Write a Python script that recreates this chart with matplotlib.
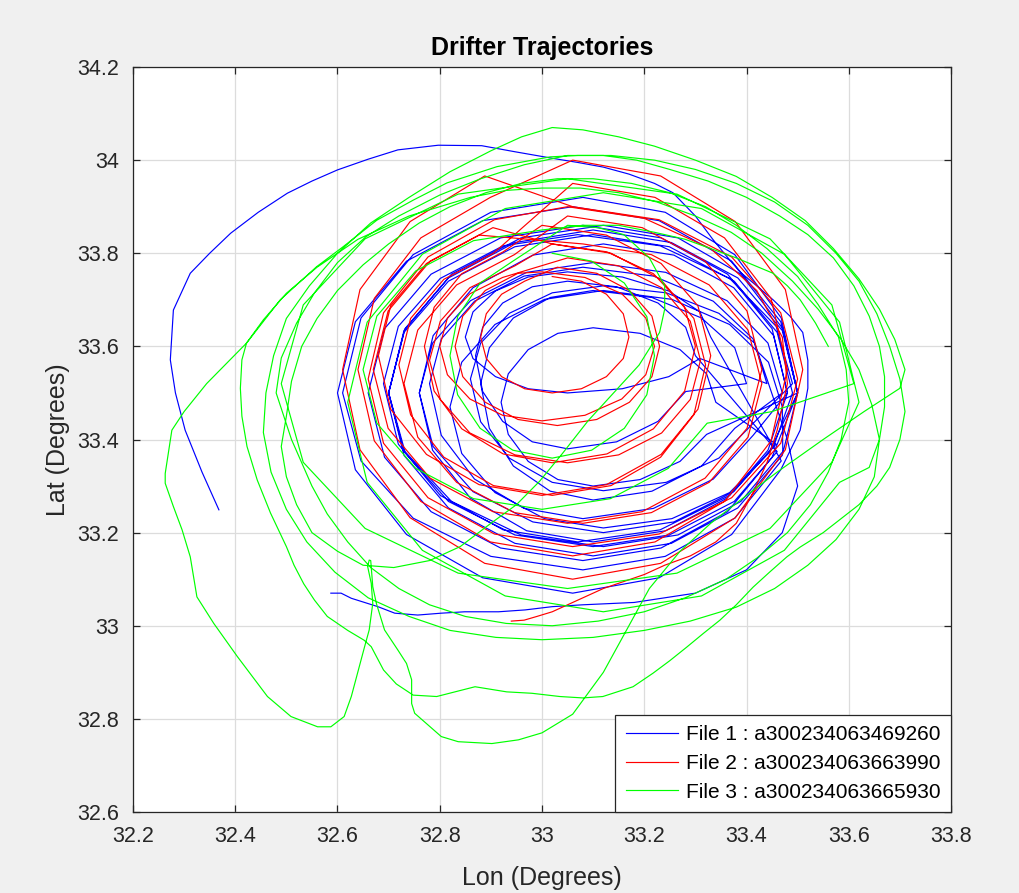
import matplotlib
matplotlib.use("Agg")
import matplotlib.pyplot as plt

# ---------------- data (lon, lat) ----------------
title = "Drifter Trajectories"
xlabel = "Lon (Degrees)"
ylabel = "Lat (Degrees)"
legend_labels = ["File 1 : a300234063469260",
                 "File 2 : a300234063663990",
                 "File 3 : a300234063665930"]
xticks = [32.2, 32.4, 32.6, 32.8, 33.0, 33.2, 33.4, 33.6, 33.8]
xtick_labels = ["32.2", "32.4", "32.6", "32.8", "33", "33.2", "33.4", "33.6", "33.8"]
yticks = [32.6, 32.8, 33.0, 33.2, 33.4, 33.6, 33.8, 34.0, 34.2]
ytick_labels = ["32.6", "32.8", "33", "33.2", "33.4", "33.6", "33.8", "34", "34.2"]

# ---------- File 1 (blue) ----------
blue_start = [(32.368,33.249),(32.335,33.33),(32.302,33.42),(32.283,33.50),(32.273,33.571),
              (32.279,33.678),(32.312,33.757),(32.35,33.80),(32.391,33.843),(32.445,33.888),
              (32.502,33.929),(32.55,33.955),(32.600,33.979),(32.66,34.002),(32.718,34.022),
              (32.797,34.032),(32.882,34.031),(32.947,34.018),(33.020,34.004),(33.07,33.995),
              (33.12,33.985),(33.17,33.97),(33.22,33.95),(33.256,33.93),(33.30,33.88),
              (33.334,33.83),(33.36,33.795),(33.387,33.76),(33.42,33.73),(33.452,33.70),
              (33.485,33.665),(33.51,33.63),(33.52,33.57),(33.52,33.51),(33.505,33.42)]
blue_loops_a = [
    (33.467,33.335),(33.371,33.196),(33.229,33.103),(33.06,33.07),(32.884,33.103),(32.735,33.196),
    (32.635,33.335),(32.60,33.50),(32.635,33.653),(32.735,33.783),(32.884,33.87),(33.06,33.90),
    (33.229,33.87),(33.371,33.783),(33.467,33.653),(33.50,33.50),
    (33.45,33.362),(33.363,33.245),(33.233,33.167),(33.08,33.14),(32.919,33.167),(32.783,33.245),
    (32.692,33.362),(32.66,33.50),(32.692,33.638),(32.783,33.755),(32.919,33.833),(33.08,33.86),
    (33.233,33.833),(33.363,33.755),(33.45,33.638),(33.48,33.50),
    (33.442,33.377),(33.362,33.274),(33.242,33.204),(33.10,33.18),(32.97,33.204),(32.86,33.274),
    (32.786,33.377),(32.76,33.50),(32.786,33.607),(32.86,33.698),(32.97,33.759),(33.10,33.78),
    (33.242,33.759),(33.362,33.698),(33.442,33.607),(33.47,33.50),
    (33.377,33.424),(33.312,33.343),(33.215,33.289),(33.10,33.27),(33.016,33.289),(32.944,33.343),
    (32.897,33.424),(32.88,33.52),(32.897,33.597),(32.944,33.661),(33.016,33.705),(33.10,33.72),
    (33.215,33.705),(33.312,33.661),(33.377,33.597),(33.40,33.52),
    (33.281,33.503),(33.227,33.439),(33.146,33.395),(33.05,33.38),(32.981,33.395),(32.923,33.439),
    (32.884,33.503),(32.87,33.58),(32.884,33.641),(32.923,33.693),(32.981,33.728),(33.05,33.74),
    (33.146,33.728),(33.227,33.693),(33.281,33.641),(33.30,33.58)]
blue_loops_b = [
    (33.46,33.374),(33.376,33.267),(33.249,33.195),(33.10,33.17),(32.947,33.195),(32.817,33.267),
    (32.73,33.374),(32.70,33.50),(32.73,33.63),(32.817,33.74),(32.947,33.814),(33.10,33.84),
    (33.249,33.814),(33.376,33.74),(33.46,33.63),(33.49,33.50),
    (33.453,33.385),(33.375,33.288),(33.258,33.223),(33.12,33.20),(32.982,33.223),(32.865,33.288),
    (32.787,33.385),(32.76,33.50),(32.787,33.623),(32.865,33.726),(32.982,33.796),(33.12,33.82),
    (33.258,33.796),(33.375,33.726),(33.453,33.623),(33.48,33.50),
    (33.413,33.409),(33.335,33.315),(33.218,33.252),(33.08,33.23),(32.965,33.252),(32.868,33.315),
    (32.803,33.409),(32.78,33.52),(32.803,33.616),(32.868,33.697),(32.965,33.751),(33.08,33.77),
    (33.218,33.751),(33.335,33.697),(33.413,33.616),(33.44,33.52),
    (33.309,33.574),(33.248,33.535),(33.157,33.509),(33.05,33.50),(32.973,33.509),(32.909,33.535),
    (32.865,33.574),(32.85,33.62),(32.865,33.674),(32.909,33.719),(32.973,33.749),(33.05,33.76),
    (33.157,33.749),(33.248,33.719),(33.309,33.674),(33.33,33.62)]
blue_loops_c = [
    (33.468,33.354),(33.377,33.231),(33.241,33.149),(33.08,33.12),(32.90,33.149),(32.748,33.231),
    (32.646,33.354),(32.61,33.50),(32.646,33.661),(32.748,33.797),(32.90,33.888),(33.08,33.92),
    (33.241,33.888),(33.377,33.797),(33.468,33.661),(33.50,33.50),
    (33.47,33.366),(33.383,33.253),(33.253,33.177),(33.10,33.15),(32.947,33.177),(32.817,33.253),
    (32.73,33.366),(32.70,33.50),(32.73,33.634),(32.817,33.747),(32.947,33.823),(33.10,33.85),
    (33.253,33.823),(33.383,33.747),(33.47,33.634),(33.50,33.50),
    (33.443,33.37),(33.367,33.286),(33.254,33.23),(33.12,33.21),(33.005,33.23),(32.908,33.286),
    (32.843,33.37),(32.82,33.47),(32.843,33.566),(32.908,33.647),(33.005,33.701),(33.12,33.72),
    (33.254,33.701),(33.367,33.647),(33.443,33.566),(33.47,33.47)]
blue_loops_d = [
    (33.471,33.374),(33.389,33.267),(33.266,33.195),(33.12,33.17),(32.959,33.195),(32.823,33.267),
    (32.732,33.374),(32.70,33.50),(32.732,33.638),(32.823,33.755),(32.959,33.833),(33.12,33.86),
    (33.266,33.833),(33.389,33.755),(33.471,33.638),(33.50,33.50),
    (33.322,33.411),(33.27,33.353),(33.192,33.314),(33.10,33.30),(33.031,33.314),(32.973,33.353),
    (32.934,33.411),(32.92,33.48),(32.934,33.541),(32.973,33.593),(33.031,33.628),(33.10,33.64),
    (33.192,33.628),(33.27,33.593),(33.322,33.541),(33.34,33.48),
    (33.458,33.39),(33.367,33.28),(33.231,33.206),(33.07,33.18),(32.924,33.206),(32.801,33.28),
    (32.719,33.39),(32.69,33.52),(32.719,33.643),(32.801,33.746),(32.924,33.816),(33.07,33.84),
    (33.231,33.816),(33.367,33.746),(33.458,33.643),(33.49,33.52),
    (33.416,33.438),(33.346,33.36),(33.243,33.308),(33.12,33.29),(33.02,33.308),(32.936,33.36),
    (32.88,33.438),(32.86,33.53),(32.88,33.607),(32.936,33.671),(33.02,33.715),(33.12,33.73),
    (33.243,33.715),(33.346,33.671),(33.416,33.607),(33.44,33.53)]
blue_end = [(33.48,33.40),(33.50,33.30),(33.47,33.20),(33.40,33.12),(33.30,33.07),(33.18,33.05),
            (33.08,33.045),(33.02,33.041),(32.967,33.034),(32.915,33.030),(32.849,33.030),
            (32.803,33.027),(32.757,33.023),(32.712,33.027),(32.679,33.041),(32.627,33.059),
            (32.607,33.07),(32.587,33.07)]

# ---------- File 2 (red) ----------
red_inner = [
    (33.02,33.75),(33.077,33.74),(33.126,33.712),(33.159,33.67),(33.17,33.62),(33.159,33.574),
    (33.126,33.535),(33.077,33.509),(33.02,33.50),(32.966,33.509),(32.921,33.535),(32.891,33.574),
    (32.88,33.62),(32.891,33.67),(32.921,33.712),(32.966,33.74),
    (33.03,33.77),(33.107,33.757),(33.171,33.72),(33.215,33.665),(33.23,33.60),(33.215,33.535),
    (33.171,33.48),(33.107,33.443),(33.03,33.43),(32.953,33.443),(32.889,33.48),(32.845,33.535),
    (32.83,33.60),(32.845,33.665),(32.889,33.72),(32.953,33.757),
    (33.00,33.76),(33.084,33.748),(33.156,33.713),(33.203,33.661),(33.22,33.60),(33.203,33.539),
    (33.156,33.487),(33.084,33.452),(33.00,33.44),(32.923,33.452),(32.859,33.487),(32.815,33.539),
    (32.80,33.60),(32.815,33.661),(32.859,33.713),(32.923,33.748),
    (33.05,33.79),(33.15,33.773),(33.234,33.726),(33.29,33.654),(33.31,33.57),(33.29,33.486),
    (33.234,33.414),(33.15,33.367),(33.05,33.35),(32.947,33.367),(32.859,33.414),(32.801,33.486),
    (32.78,33.57),(32.801,33.654),(32.859,33.726),(32.947,33.773)]
red_middle = [
    (33.02,33.82),(33.127,33.803),(33.218,33.756),(33.279,33.684),(33.30,33.60),(33.279,33.504),
    (33.218,33.423),(33.127,33.369),(33.02,33.35),(32.924,33.369),(32.843,33.423),(32.789,33.504),
    (32.77,33.60),(32.789,33.684),(32.843,33.756),(32.924,33.803),
    (33.00,33.86),(33.126,33.839),(33.233,33.778),(33.305,33.687),(33.33,33.58),(33.305,33.465),
    (33.233,33.368),(33.126,33.303),(33.00,33.28),(32.877,33.303),(32.774,33.368),(32.704,33.465),
    (32.68,33.58),(32.704,33.687),(32.774,33.778),(32.877,33.839),
    (33.08,33.82),(33.214,33.797),(33.327,33.732),(33.403,33.635),(33.43,33.52),(33.403,33.405),
    (33.327,33.308),(33.214,33.243),(33.08,33.22),(32.946,33.243),(32.833,33.308),(32.757,33.405),
    (32.73,33.52),(32.757,33.635),(32.833,33.732),(32.946,33.797),
    (33.05,33.88),(33.196,33.855),(33.319,33.783),(33.401,33.676),(33.43,33.55),(33.401,33.424),
    (33.319,33.317),(33.196,33.245),(33.05,33.22),(32.904,33.245),(32.781,33.317),(32.699,33.424),
    (32.67,33.55),(32.699,33.676),(32.781,33.783),(32.904,33.855)]
red_outer = [
    (33.02,33.82),(33.135,33.80),(33.232,33.744),(33.297,33.66),(33.32,33.56),(33.297,33.453),
    (33.232,33.362),(33.135,33.301),(33.02,33.28),(32.905,33.301),(32.808,33.362),(32.743,33.453),
    (32.72,33.56),(32.743,33.66),(32.808,33.744),(32.905,33.80),
    (33.06,33.95),(33.221,33.92),(33.357,33.833),(33.448,33.703),(33.48,33.55),(33.448,33.397),
    (33.357,33.267),(33.221,33.18),(33.06,33.15),(32.899,33.18),(32.763,33.267),(32.672,33.397),
    (32.64,33.55),(32.672,33.703),(32.763,33.833),(32.899,33.92),
    (33.06,34.00),(33.232,33.966),(33.378,33.868),(33.476,33.722),(33.51,33.55),(33.476,33.378),
    (33.378,33.232),(33.232,33.134),(33.06,33.10),(32.888,33.134),(32.742,33.232),(32.644,33.378),
    (32.61,33.55),(32.644,33.722),(32.742,33.868),(32.888,33.966),
    (33.06,33.90),(33.229,33.872),(33.371,33.792),(33.467,33.672),(33.50,33.53),(33.467,33.392),
    (33.371,33.275),(33.229,33.197),(33.06,33.17),(32.907,33.197),(32.777,33.275),(32.69,33.392),
    (32.66,33.53),(32.69,33.672),(32.777,33.792),(32.907,33.872)]
red_end = [(33.05,33.90),(33.20,33.875),(33.33,33.81),(33.42,33.72),(33.47,33.62),(33.48,33.52),
           (33.46,33.42),(33.44,33.35),(33.41,33.28),(33.38,33.22),(33.34,33.18),(33.29,33.15),
           (33.24,33.13),(33.20,33.11),(33.16,33.095),(33.12,33.08),(33.08,33.06),(33.05,33.045),
           (33.02,33.03),(32.99,33.02),(32.965,33.012),(32.94,33.01)]

# ---------- File 3 (green) ----------
green_inner = [
    (33.02,33.80),(33.097,33.783),(33.161,33.736),(33.205,33.664),(33.22,33.58),(33.205,33.496),
    (33.161,33.424),(33.097,33.377),(33.02,33.36),(32.943,33.377),(32.879,33.424),(32.835,33.496),
    (32.82,33.58),(32.835,33.664),(32.879,33.736),(32.943,33.783),
    (33.05,33.86),(33.11,33.855),(33.16,33.84),(33.21,33.79),(33.24,33.73),(33.24,33.68),
    (33.23,33.63),(33.19,33.56),(33.14,33.50),(33.09,33.44),(33.04,33.37),(32.995,33.31),
    (32.95,33.26),(32.90,33.22),(32.84,33.17),(32.78,33.14),(32.71,33.125),(32.65,33.13),
    (32.60,33.16),(32.55,33.20),(32.52,33.26),(32.50,33.32),(32.49,33.385),(32.50,33.45),
    (32.51,33.525),(32.53,33.60),(32.56,33.66),(32.60,33.72),(32.65,33.775),(32.70,33.82),
    (32.76,33.865),(32.82,33.90),(32.89,33.93),(32.96,33.95),(33.03,33.96),(33.10,33.96),
    (33.175,33.95),(33.25,33.93),(33.32,33.90),(33.38,33.86),(33.44,33.81),(33.50,33.75),
    (33.54,33.69),(33.58,33.62),(33.595,33.55),(33.60,33.48),(33.585,33.40),(33.56,33.33),
    (33.525,33.26),(33.48,33.20),(33.42,33.145),(33.36,33.10),(33.28,33.06),(33.20,33.03),
    (33.11,33.01),(33.02,33.00),(32.93,33.005),(32.85,33.02),(32.78,33.045),(32.72,33.08),
    (32.665,33.125),(32.62,33.18),(32.58,33.24),(32.55,33.30),(32.51,33.40)]
green_big = [(32.48,33.50),(32.49,33.575),(32.52,33.65),(32.555,33.715),(32.60,33.78),(32.655,33.835),
             (32.72,33.88),(32.80,33.925),(32.88,33.96),(32.965,33.99),(33.05,34.01),(33.135,34.01),
             (33.22,34.00),(33.30,33.98),(33.38,33.95),(33.455,33.91),(33.52,33.86),(33.575,33.80),
             (33.62,33.74),(33.655,33.67),(33.68,33.60),(33.70,33.53),(33.71,33.46),(33.70,33.40),
             (33.68,33.34),(33.655,33.30),(33.62,33.26),(33.585,33.23),(33.55,33.20)]
green_south1 = [
    (33.505,33.169),(33.479,33.148),(33.445,33.115),(33.413,33.083),(33.38,33.045),(33.348,33.012),
    (33.315,32.983),(33.283,32.954),(33.25,32.925),(33.217,32.898),(33.178,32.869),(33.119,32.848),
    (33.08,32.845),(33.035,32.848),(32.98,32.855),(32.931,32.858),(32.869,32.869),(32.83,32.858),
    (32.794,32.848),(32.748,32.851),(32.715,32.875),(32.69,32.905),(32.666,32.955),(32.652,32.969),
    (32.62,32.99),(32.58,33.02),(32.555,33.055),(32.534,33.09),(32.515,33.13),(32.50,33.17),
    (32.485,33.205),(32.469,33.242),(32.443,33.313),(32.423,33.385),(32.413,33.45),(32.41,33.51),
    (32.413,33.571),(32.422,33.607),(32.455,33.657),(32.50,33.714),(32.56,33.77),(32.60,33.80),
    (32.64,33.83),(32.69,33.855),(32.74,33.88),(32.80,33.90),(32.86,33.92),(32.93,33.935),
    (33.00,33.94),(33.075,33.94),(33.15,33.93),(33.225,33.91),(33.30,33.88),(33.37,33.845),
    (33.43,33.80),(33.49,33.74),(33.54,33.68),(33.585,33.615),(33.62,33.55),(33.645,33.475)]
green_big2 = [(33.66,33.40),(33.65,33.32),(33.62,33.25),(33.575,33.185),(33.52,33.13),(33.455,33.08),
              (33.38,33.04),(33.29,33.01),(33.20,32.99),(33.10,32.975),(33.00,32.97),(32.91,32.975),
              (32.82,32.99),(32.74,33.02),(32.66,33.06),(32.595,33.115),(32.54,33.18),(32.50,33.25),
              (32.47,33.33),(32.455,33.415),(32.46,33.50),(32.475,33.58),(32.50,33.66),(32.545,33.73),
              (32.60,33.80),(32.665,33.865),(32.74,33.92),(32.82,33.975),(32.90,34.02),(32.96,34.05),
              (33.02,34.07),(33.08,34.065),(33.15,34.05),(33.22,34.03),(33.30,34.00),(33.38,33.965),
              (33.45,33.92),(33.515,33.87),(33.57,33.81),(33.62,33.745),(33.66,33.68),(33.69,33.615),
              (33.71,33.55),(33.70,33.51)]
green_south2 = [
    (33.63,33.46),(33.55,33.40),(33.46,33.33),(33.40,33.28),(33.33,33.22),(33.27,33.16),
    (33.21,33.08),(33.17,33.00),(33.12,32.90),(33.06,32.81),(33.00,32.77),(32.954,32.755),
    (32.902,32.747),(32.836,32.751),(32.803,32.762),(32.751,32.812),(32.745,32.833),(32.745,32.884),
    (32.735,32.919),(32.718,32.948),(32.692,32.991),(32.676,33.048),(32.669,33.084),(32.665,33.14),
    (32.662,33.141),(32.659,33.127),(32.666,33.091),(32.669,33.048),(32.662,32.991),(32.653,32.955),
    (32.627,32.848),(32.613,32.805),(32.587,32.783),(32.561,32.783),(32.509,32.805),(32.463,32.848),
    (32.404,32.934),(32.358,33.005),(32.325,33.062),(32.312,33.148),(32.296,33.206),(32.279,33.256),
    (32.263,33.306),(32.263,33.327),(32.276,33.42),(32.30,33.46),(32.344,33.52),(32.422,33.607),
    (32.488,33.70),(32.559,33.771),(32.611,33.814),(32.677,33.871),(32.748,33.914),(32.814,33.951),
    (32.912,33.986),(33.016,34.007),(33.07,34.01),(33.12,34.01),(33.185,34.00),(33.25,33.98),
    (33.325,33.955),(33.40,33.92),(33.465,33.88),(33.52,33.84),(33.57,33.79),(33.61,33.73),
    (33.64,33.665),(33.66,33.60),(33.67,33.535),(33.67,33.47),(33.66,33.40),(33.64,33.34)]
green_late = [
    (33.582,33.308),(33.474,33.162),(33.312,33.064),(33.12,33.03),(32.928,33.064),(32.766,33.162),
    (32.658,33.308),(32.62,33.48),(32.658,33.652),(32.766,33.798),(32.928,33.896),(33.12,33.93),
    (33.312,33.896),(33.474,33.798),(33.582,33.652),(33.62,33.48),
    (33.567,33.351),(33.446,33.209),(33.264,33.113),(33.05,33.08),(32.836,33.113),(32.654,33.209),
    (32.533,33.351),(32.49,33.52),(32.533,33.689),(32.654,33.831),(32.836,33.927),(33.05,33.96),
    (33.264,33.927),(33.446,33.831),(33.567,33.689),(33.61,33.52),(33.45,33.46),
    (33.323,33.435),(33.247,33.338),(33.134,33.273),(33.00,33.25),(32.866,33.273),(32.753,33.338),
    (32.677,33.435),(32.65,33.55),(32.677,33.665),(32.753,33.762),(32.866,33.827)]
green_end = [(33.00,33.85),(33.08,33.86),(33.15,33.86),(33.22,33.845),(33.28,33.83),(33.33,33.81),
             (33.38,33.79),(33.452,33.757),(33.48,33.73),(33.505,33.70),(33.535,33.65),(33.56,33.60)]

blue_track = blue_start + blue_loops_a + blue_loops_b + blue_loops_c + blue_loops_d + blue_end
red_track = red_inner + red_middle + red_outer + red_end
green_track = (green_inner + green_big + green_south1 + green_big2 + green_south2 +
               green_late + green_end)

tracks = [blue_track, red_track, green_track]
colors = ["#0000ff", "#ff0000", "#00ff00"]

# ---------------- figure ----------------
plt.rcParams["font.family"] = ["Liberation Sans", "DejaVu Sans"]
W, H = 1019, 893
fig = plt.figure(figsize=(W / 100, H / 100), dpi=100, facecolor="#f0f0f0")
ax = fig.add_axes([133 / W, 1 - 812 / H, 818 / W, 745 / H])
ax.set_facecolor("white")

for trk, col, lab in zip(tracks, colors, legend_labels):
    lon = [p[0] for p in trk]
    lat = [p[1] for p in trk]
    ax.plot(lon, lat, color=col, lw=0.85, label=lab, solid_joinstyle="round")

ax.set_xlim(32.2, 33.8)
ax.set_ylim(32.6, 34.2)
ax.set_xticks(xticks)
ax.set_xticklabels(xtick_labels)
ax.set_yticks(yticks)
ax.set_yticklabels(ytick_labels)
ax.grid(True, color="#dcdcdc", lw=0.9)
ax.set_axisbelow(True)
ax.tick_params(direction="in", length=5, width=0.9, colors="#262626",
               labelsize=15.5, top=True, right=True, pad=10)
for sp in ax.spines.values():
    sp.set_color("#262626")
    sp.set_linewidth(0.9)

ax.set_title(title, fontsize=18, fontweight="bold", color="black", pad=9)
ax.set_xlabel(xlabel, fontsize=18, color="#262626", labelpad=14)
ax.set_ylabel(ylabel, fontsize=18, color="#262626", labelpad=5)

leg = ax.legend(loc="lower right", borderaxespad=0, fontsize=15, fancybox=False,
                framealpha=1, edgecolor="#262626", handlelength=2.5,
                labelspacing=0.47, borderpad=0.5, handletextpad=0.4)
leg.get_frame().set_linewidth(0.9)

fig.savefig("out.png", dpi=100, facecolor=fig.get_facecolor())
